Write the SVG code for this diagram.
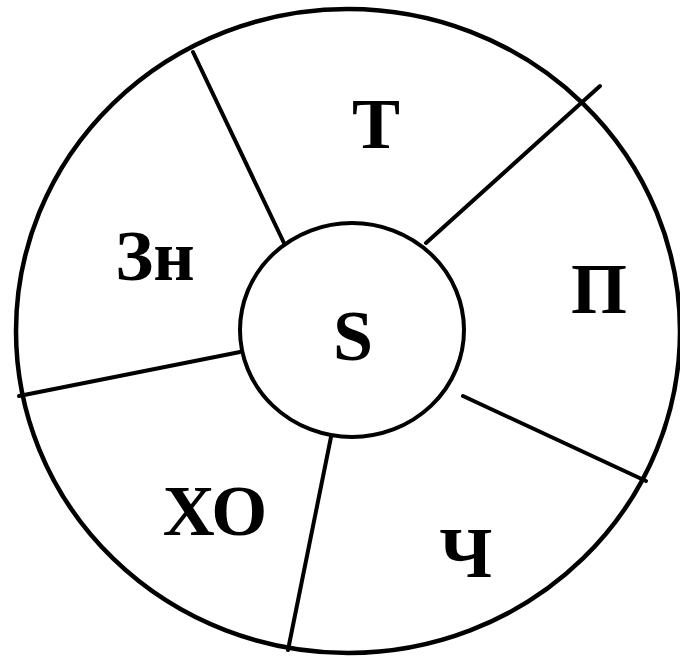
<svg xmlns="http://www.w3.org/2000/svg" width="680" height="657" viewBox="0 0 680 657">
<style>
.ring{fill:none;stroke:#000;stroke-width:4.5}
.core{fill:#fff;stroke:#000;stroke-width:4}
.spoke{stroke:#000;stroke-width:4;stroke-linecap:round;fill:none}
.lbl{font-family:"Liberation Serif","Times New Roman",serif;font-weight:bold;font-size:72px;text-anchor:middle;fill:#000}
</style>
<rect width="680" height="657" fill="#fff"/>
<g id="outer"><ellipse class="ring" cx="348" cy="331" rx="332" ry="322"/></g>
<g id="connectors">
<line class="spoke" x1="193" y1="52" x2="284" y2="243"/>
<line class="spoke" x1="426" y1="243" x2="600" y2="86"/>
<line class="spoke" x1="463" y1="396" x2="646" y2="481"/>
<line class="spoke" x1="331" y1="437" x2="288" y2="650"/>
<line class="spoke" x1="240" y1="352" x2="19" y2="396"/>
</g>
<g id="S"><ellipse class="core" cx="352" cy="330" rx="112" ry="107"/><text class="lbl" x="353" y="360">S</text></g>
<g id="T"><text class="lbl" x="376" y="148">Т</text></g>
<g id="P"><text class="lbl" x="599" y="313">П</text></g>
<g id="Zn"><text class="lbl" x="155" y="280">Зн</text></g>
<g id="XO"><text class="lbl" x="215" y="535">ХО</text></g>
<g id="Ch"><text class="lbl" x="466" y="577">Ч</text></g>
</svg>
